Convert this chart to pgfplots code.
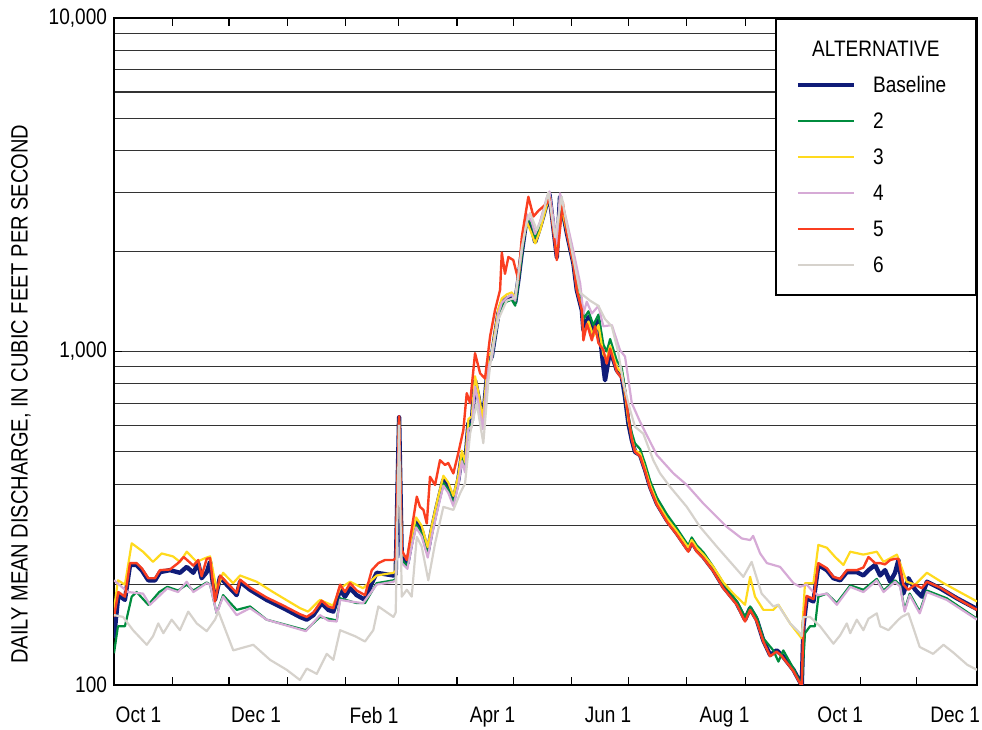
\documentclass[border=0pt]{standalone}
\usepackage{fontspec}
\setmainfont{Liberation Sans}[FakeStretch=0.85]
\usepackage{pgfplots}
\pgfplotsset{compat=1.18}
\definecolor{cBase}{RGB}{16,28,120}
\definecolor{cTwo}{RGB}{0,140,62}
\definecolor{cThree}{RGB}{255,218,30}
\definecolor{cFour}{RGB}{214,170,214}
\definecolor{cFive}{RGB}{250,62,32}
\definecolor{cSix}{RGB}{214,210,204}
\begin{document}
\begin{tikzpicture}
\begin{axis}[
  scale only axis, width=431.5bp, height=333.5bp,
  xmin=0, xmax=458, ymode=log, ymin=100, ymax=10000,
  xtick={0,31,61,92,123,151,182,212,243,273,304,335,365,396,426},
  xticklabels={},
  extra x ticks={13,75.4,138,200.9,262.2,324,385.4,446.4},
  extra x tick labels={Oct 1,Dec 1,Feb 1,Apr 1,Jun 1,Aug 1,Oct 1,Dec 1},
  extra x tick style={major tick length=0pt, grid=none, xticklabel style={yshift=-7.5bp}},
  ytick={100,1000,10000}, yticklabels={100,{1,000},{10,000}},
  minor ytick={200,300,400,500,600,700,800,900,2000,3000,4000,5000,6000,7000,8000,9000},
  ymajorgrids, yminorgrids,
  major grid style={black!80, line width=0.6bp},
  minor grid style={black!80, line width=0.6bp},
  axis line style={line width=0.8bp},
  tick style={black, line width=0.6bp},
  major tick length=4bp, minor tick length=0pt,
  tick label style={font=\fontsize{11.2bp}{13bp}\selectfont},
  /pgf/number format/assume math mode=true,
  ylabel={DAILY MEAN DISCHARGE, IN CUBIC FEET PER SECOND},
  ylabel style={at={(axis description cs:-0.1078,0.436)}, anchor=center, font=\fontsize{11.8bp}{13bp}\selectfont},
  legend style={at={(rel axis cs:1,1)}, anchor=north east, draw=black, line width=0.8bp, fill=white,
    inner xsep=10bp, inner ysep=11bp, row sep=10bp, column sep=8.5bp,
    font=\fontsize{11.2bp}{13bp}\selectfont,
    nodes={inner sep=0pt, text height=8bp, text depth=0pt}},
  legend cell align=left,
  legend image code/.code={\draw[#1] (0bp,0bp) -- (28bp,0bp);},
  every axis plot/.append style={line join=round},
]
\coordinate (ll) at (rel axis cs:0,0);
\coordinate (ur) at (rel axis cs:1,1);
\addlegendimage{empty legend}
\addlegendentry{\hspace*{-30.5bp}ALTERNATIVE}

\addplot[cBase, line width=2.2bp] coordinates {(0,138)(2.3,186)(5.8,180)(8.5,229)(12,229)(14.7,221)(18.2,206)(21.8,206)(24.4,218)(29.7,221)(35,217)(38.6,226)(42.1,217)(44.7,232)(46.5,209)(49.2,218)(51,234)(53.6,180)(56.3,211)(59.8,200)(65.1,186)(66.9,204)(72.2,193)(81,180)(89.9,170)(98.7,160)(102.3,157)(105.8,162)(110.2,176)(113.7,168)(116.4,166)(120,193)(122.6,184)(125.3,195)(128.8,186)(133.2,180)(136.8,202)(139.4,217)(148.3,213)(149.5,215)(151.3,635)(152.7,242)(155.7,232)(158,272)(160.3,309)(163.3,291)(166.5,251)(168.6,291)(171.3,342)(174.8,412)(177.4,393)(180.1,358)(182.7,412)(184.6,489)(186.3,452)(188.1,609)(189.9,620)(191.6,818)(193.4,731)(195.7,609)(198.7,943)(200.5,966)(204,1300)(205.8,1400)(208.4,1440)(211.1,1460)(212.9,1400)(214.6,1640)(216.4,1980)(219.1,2540)(221.7,2360)(223.5,2130)(226.1,2360)(229.7,2780)(231.1,2960)(235,1920)(236.7,2910)(240.3,2270)(243.8,1840)(245.6,1530)(248.3,1330)(249.1,1160)(251.8,1270)(254.4,1130)(257.1,1240)(259.7,900)(260.6,820)(263.3,1010)(266.8,880)(269.5,840)(271.2,731)(273,609)(274.8,543)(276.5,500)(279.2,489)(281.9,441)(284.5,393)(288.1,350)(293.4,312)(298.7,285)(304.8,254)(306.6,269)(309.3,254)(312.8,242)(318.1,221)(323.4,197)(330.5,176)(334.9,157)(337.6,170)(341.1,157)(344.6,136)(348.2,123)(351.7,127)(354.4,123)(360.6,111)(364.1,102)(365,100)(365.9,150)(367.6,182)(371.2,178)(373.8,229)(378.3,221)(381.8,209)(385.4,206)(388.9,218)(394.2,218)(397.7,213)(400.4,221)(403.9,229)(406.6,213)(409.2,221)(411.9,204)(414.5,217)(416.3,237)(418.9,188)(421.6,209)(425.2,193)(428.7,184)(431.4,204)(438.4,195)(447.3,182)(458,169)};
\addlegendentry{Baseline\hspace*{5bp}}

\addplot[cTwo, line width=1.1bp] coordinates {(0,124.5)(2.1,150)(5.8,150)(9.4,184)(12,190)(18.2,174)(24,190)(28.3,197)(34,192)(38.6,200)(42.1,192)(49.2,203)(51,200)(54.5,164)(57.9,186)(65.1,168)(72.2,172)(81,157)(101.8,146)(109.3,160)(116.2,157)(118.2,156)(120,182)(128.8,176)(133.2,176)(139.4,202)(148.3,206)(149.5,208)(151.3,620)(152.7,237)(155.7,227)(158,267)(160.3,303)(163.3,285)(166.5,246)(168.6,285)(171.3,335)(174.8,404)(177.4,385)(180.1,351)(182.7,404)(184.6,479)(186.3,443)(188.1,597)(189.9,608)(191.6,802)(193.4,716)(195.7,597)(198.7,924)(200.5,947)(204,1274)(205.8,1372)(208.4,1411)(211.1,1431)(212.9,1372)(214.6,1607)(216.4,1940)(219.1,2540)(221.7,2400)(223.5,2200)(226.1,2400)(229.7,2800)(231.1,2980)(235,1950)(236.7,2930)(240.3,2300)(243.8,1900)(245.6,1580)(248.3,1380)(249.1,1250)(251.8,1320)(254.4,1200)(257.1,1290)(259.7,1050)(261.5,1000)(263.3,1090)(266.8,940)(269.5,890)(271.2,770)(273,640)(274.8,570)(276.5,530)(279.2,510)(281.9,460)(284.5,410)(288.1,365)(293.4,325)(298.7,295)(304.8,262)(306.6,277)(309.3,262)(312.8,250)(318.1,226)(323.4,202)(330.5,178)(334.9,160)(337.6,172)(341.1,160)(344.6,138)(349.9,127)(352.6,117.5)(355.2,127)(360.6,112)(364.1,102)(365,101)(366.7,143)(369.4,150)(372,150)(373.8,184)(378.3,188)(383.6,176)(390.7,199)(397.7,193)(404.8,208)(408.4,192)(414.5,206)(417.2,199)(419.6,168)(422.3,188)(427.6,166)(431.4,192)(441.9,182)(458,158)};
\addlegendentry{2}

\addplot[cThree, line width=1.1bp] coordinates {(0,168)(2.1,206)(5.8,200)(9.4,266)(15.4,251)(20.7,234)(25.3,248)(31.3,243)(35,234)(38.6,251)(43.9,234)(48.3,240)(51,243)(54.5,193)(57.9,217)(63.2,202)(66.9,213)(75.7,204)(84.4,190)(98.7,170)(103,166)(109.3,180)(116.2,173)(120,195)(125.3,204)(132.2,195)(139.4,213)(148.3,217)(149.5,220)(151.3,630)(152.7,249)(155.7,239)(158,280)(160.3,318)(163.3,300)(166.5,259)(168.6,300)(171.3,352)(174.8,424)(177.4,405)(180.1,369)(182.7,424)(184.6,504)(186.3,466)(188.1,627)(189.9,639)(191.6,843)(193.4,753)(195.7,627)(198.7,971)(200.5,995)(204,1339)(205.8,1442)(208.4,1483)(211.1,1504)(212.9,1442)(214.6,1689)(216.4,2039)(219.1,2450)(221.7,2250)(223.5,2110)(226.1,2300)(229.7,2750)(231.1,2900)(235,1950)(236.7,2850)(240.3,2270)(243.8,1840)(245.6,1540)(248.3,1340)(249.1,1120)(251.8,1230)(254.4,1110)(257.1,1200)(259.7,980)(261.5,950)(263.3,1040)(266.8,900)(269.5,860)(271.2,745)(273,620)(274.8,550)(276.5,505)(279.2,495)(281.9,445)(284.5,398)(288.1,354)(293.4,316)(298.7,289)(304.8,258)(306.6,272)(309.3,258)(312.8,246)(318.1,226)(323.4,203)(328.7,188)(334.9,174)(337.6,211)(340.2,184)(344.6,168)(349.9,168)(352.6,174)(358.8,153)(364.1,140)(365,138)(366.7,202)(371.2,202)(373.8,263)(378.3,258)(382.7,242)(387.1,229)(390.7,251)(397.7,246)(404.8,251)(408.4,234)(415.5,246)(420.7,204)(425.2,200)(431.4,217)(440.2,202)(458,178)};
\addlegendentry{3}

\addplot[cFour, line width=1.1bp] coordinates {(0,206)(7.3,190)(15.4,188)(19.1,174)(28.3,195)(34,190)(38.6,204)(42.1,190)(49.2,202)(51,200)(54.5,164)(57.9,184)(65.1,162)(72.2,170)(81,157)(101.8,145)(109.3,162)(113.7,156)(118.2,155)(120,180)(125.3,178)(132.2,176)(139.4,200)(148.3,204)(149.5,206)(151.3,615)(152.7,232)(155.7,223)(158,261)(160.3,297)(163.3,279)(166.5,241)(168.6,279)(171.3,328)(174.8,396)(177.4,377)(180.1,344)(182.7,396)(184.6,469)(186.3,434)(188.1,585)(189.9,595)(191.6,785)(193.4,702)(195.7,585)(198.7,905)(200.5,950)(204,1300)(205.8,1400)(208.4,1450)(211.1,1480)(212.9,1420)(214.6,1680)(216.4,2000)(219.1,2580)(221.7,2450)(223.5,2250)(226.1,2450)(229.7,2900)(231.1,3020)(235,2100)(236.7,2980)(240.3,2450)(243.8,2000)(247.4,1600)(249.1,1300)(250.9,1410)(253.6,1300)(257.1,1370)(259.7,1190)(264.2,1200)(268.5,1010)(271.2,966)(274.8,700)(279.2,615)(288.1,489)(296.9,431)(304,398)(312.8,350)(325.2,298)(333.2,275)(337.6,272)(339.2,280)(342.9,248)(346.5,232)(353.5,226)(360.6,202)(364.1,197)(367.6,200)(371.2,190)(373.8,186)(378.3,188)(383.6,174)(390.7,197)(397.7,190)(404.8,206)(408.4,190)(414.5,204)(417.2,197)(419.6,166)(422.3,186)(427.6,164)(431.4,190)(441.9,180)(458,157)};
\addlegendentry{4}

\addplot[cFive, line width=1.2bp] coordinates {(0,160)(2.3,190)(5.8,184)(8.5,232)(12,232)(14.7,224)(18.2,209)(21.8,209)(24.4,221)(29.7,222)(34,232)(37,242)(42.1,228)(44.7,237)(46.5,212)(49.2,239)(51,240)(53.6,178)(56.3,213)(59.8,203)(65.1,189)(66.9,207)(72.2,196)(81,183)(89.9,173)(98.7,163)(102.3,160)(105.8,165)(110.2,179)(113.7,172)(116.4,170)(120,200)(122.6,190)(125.3,202)(128.8,192)(133.2,186)(136.8,221)(140.3,232)(143.8,237)(148.3,237)(149.5,240)(151.3,640)(152.7,254)(155.4,237)(160.7,367)(162.4,342)(164.2,335)(166,305)(167.7,421)(170.4,398)(173,472)(175.7,457)(177.4,463)(180.1,431)(182.7,495)(185.4,581)(187.2,750)(189,700)(191.6,988)(194.3,860)(196.9,830)(199.6,1110)(202.2,1330)(204.9,1530)(205.8,1980)(207.5,1710)(209.3,1920)(211.9,1880)(214.6,1640)(216.4,2200)(218.2,2540)(219.9,2910)(222.6,2540)(225.2,2640)(229.7,2780)(231.1,2900)(235,1880)(238.2,2800)(240.3,2270)(243.8,1840)(245.6,1530)(248.3,1330)(249.1,1080)(251,1210)(253.6,1080)(255.3,1190)(257.1,1060)(259.7,1010)(261.5,920)(263.3,1020)(266.8,870)(269.5,830)(271.2,767)(272.5,668)(274.8,545)(276.5,500)(279.2,485)(281.9,437)(284.5,389)(288.1,347)(293.4,309)(298.7,282)(304.8,251)(306.6,266)(309.3,251)(312.8,240)(318.1,219)(323.4,195)(330.5,174)(334.9,155)(337.6,168)(341.1,155)(344.6,135)(348.2,122)(351.7,126)(354.4,122)(360.6,110)(364.1,101)(365,100)(365.9,152)(367.6,185)(371.2,181)(373.8,232)(378.3,224)(381.8,211)(385.4,208)(388.9,221)(394.2,221)(397.7,225)(400.4,242)(403.9,232)(406.6,232)(409.2,230)(411.9,237)(414.5,239)(416.3,239)(418.9,200)(421.6,193)(425.2,200)(428.7,195)(431.4,204)(438.4,196)(447.3,182)(458,168)};
\addlegendentry{5}

\addplot[cSix, line width=1.1bp] coordinates {(0,162)(4.8,160)(10.1,146)(17.4,132)(20.7,140)(23.5,153)(26.2,143)(30.6,157)(35,146)(39.4,166)(43.9,153)(49.2,145)(53.6,157)(55.4,166)(63.3,127)(73.9,132)(82.8,119)(91.7,111)(98.7,103.5)(102.3,112)(107.6,108)(112.9,124)(116.4,119)(120,146)(128,140)(133.2,135)(137.6,146)(140.3,172)(148.3,160)(149.5,165)(151.3,600)(152.7,184)(155.4,193)(158,184)(160.7,278)(163.3,260)(166.8,206)(170.4,266)(174.8,342)(180.1,335)(183.7,376)(186.3,402)(189,568)(192.5,700)(196,531)(198.7,818)(200.5,1000)(204,1250)(208.4,1420)(212.9,1450)(214.6,1700)(216.4,2050)(219.1,2450)(220.8,2600)(224.4,2310)(227,2500)(230.5,3000)(234.1,2200)(237.6,2910)(240.3,2400)(243.8,1900)(247.4,1500)(252.7,1420)(257.1,1370)(260.6,1250)(264.2,1190)(267.5,1000)(270.4,800)(273.9,668)(276.5,595)(280.9,567)(286.2,472)(289.8,431)(295.1,393)(304,342)(311,298)(319.9,260)(334,211)(338.4,234)(343.7,188)(349.9,172)(352.4,174)(358.8,153)(364.1,143)(365,140)(365.9,160)(369.4,160)(374.7,150)(381.8,133)(385.4,141)(388.9,153)(390.7,143)(394.2,157)(397.7,146)(400.4,158)(404.8,164)(406.6,150)(411,146)(416.3,157)(418,160)(421.6,164)(427.6,130)(434.7,124)(440.2,132)(445.5,125)(452.8,115)(458,111)};
\addlegendentry{6}
\end{axis}
\pgfresetboundingbox
\path[use as bounding box] ([shift={(-57bp,-22.5bp)}]ll) rectangle ([shift={(2.5bp,9bp)}]ur);
\end{tikzpicture}
\end{document}
